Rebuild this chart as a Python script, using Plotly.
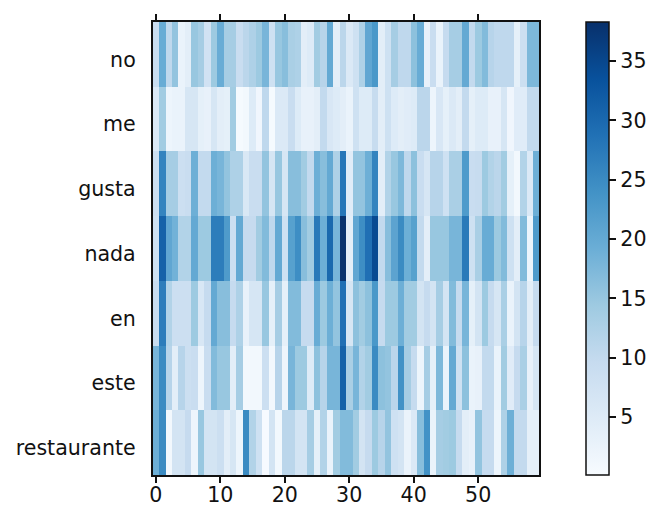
import plotly.graph_objects as go
from plotly.colors import sequential

WIDTH, HEIGHT = 666, 526

words = ["no", "me", "gusta", "nada", "en", "este", "restaurante"]
x_ticks = [0, 10, 20, 30, 40, 50]
bar_ticks = [5, 10, 15, 20, 25, 30, 35]

no = [9, 19.5, 10.5, 15.5, 2.5, 4, 15, 13.5, 7.5, 14.5, 19.5, 13.5, 13.5, 9, 11, 12.5, 14.5, 18, 8, 15,
      16.5, 13, 12.5, 4, 5, 14, 11.5, 20, 4, 11, 5.5, 8, 12.5, 20.5, 23, 4, 8, 13.5, 10.5, 10.5,
      16, 19.5, 3, 9, 2.5, 9.7, 13.5, 13.5, 20, 10, 14.5, 17, 11.5, 10.5, 10.5, 10.5, 3.5, 8.5, 17.5, 17.5]
me = [5.5, 14, 2, 2.5, 2.5, 6.5, 6.5, 3.5, 3, 6.5, 4, 3.5, 14, 0.5, 1, 5, 1.5, 10.5, 0.5, 5.5,
      5.5, 9, 5, 3, 3, 4, 10, 6, 5, 4, 2.5, 8, 5, 5, 9.5, 4, 8, 5, 4, 4.5,
      5, 11, 11, 2, 6, 3.5, 5.5, 4, 10, 3.5, 5, 5, 3, 3, 6.5, 1.5, 4.5, 4.5, 10, 10]
gusta = [8.5, 26, 13.5, 13.5, 8.5, 9, 19, 10, 10, 19, 18, 15.5, 12.5, 12.5, 5.8, 9, 9, 15.5, 6.5, 15,
         6.5, 16.5, 16.5, 14, 10, 19, 16.5, 20, 12.5, 28, 4.5, 15.5, 15.5, 19, 26, 4, 12, 15, 17.5, 10.5,
         16, 9, 6.5, 11.5, 11.5, 8, 13, 13, 22.5, 9, 9.5, 14.5, 12, 11, 14, 3.5, 1, 12, 5.5, 19]
nada = [8, 31, 20.5, 18.5, 12, 12, 20, 14.5, 14.5, 27, 27, 22.5, 8.5, 20, 9.7, 9.7, 14, 17, 10.5, 20,
        8, 21.5, 24.5, 16.5, 14, 27.5, 19, 30, 18, 38, 4, 20.5, 24.5, 29, 34.5, 10, 16.5, 21, 25, 19,
        21.5, 10, 4, 15, 15, 15, 18, 18, 27.5, 8, 13, 19.5, 19.5, 14.5, 17, 8, 4, 17, 2, 22.5]
en = [9, 27, 12, 8.5, 8.5, 8.5, 14.5, 6, 9.7, 20, 16.5, 16.5, 9.7, 12.5, 3, 6.5, 6.5, 15, 3.5, 13.5,
      3.5, 17, 17, 9.7, 9.7, 19.5, 14.5, 19, 15.5, 29, 6.5, 16, 14, 16, 23, 9.7, 14.5, 14.5, 19, 14,
      14, 7, 9.7, 7, 13.5, 7, 17, 9.7, 18, 3.5, 7, 14.5, 9.7, 6.5, 13, 2.5, 7, 11.5, 4, 9.7]
este = [18, 25, 11.5, 4, 11.5, 8.5, 9, 2, 9, 17, 15, 15, 4, 13.5, 1, 1, 1, 8.5, 1, 11.5,
        2, 18, 14.5, 14.5, 5, 16, 11.5, 18, 18, 31, 13, 18, 12, 14, 25, 16, 15.5, 11, 24, 13.5,
        9.7, 2, 13.5, 3.5, 17.5, 2.5, 20, 8, 16, 2.5, 3, 10, 10, 2.5, 14, 4.5, 9.7, 13, 3, 6.5]
restaurante = [19, 25, 1, 7, 7, 9.7, 2, 15, 7, 7, 8.5, 4, 6.5, 2, 25, 12, 8, 0.3, 7, 1,
               11, 11, 7, 7, 13.5, 3.5, 12, 2.5, 14, 17, 17, 14, 7, 9.7, 14.5, 11.5, 15.5, 8, 7, 2.5,
               5.5, 16.5, 24, 2.5, 13.5, 14, 14.5, 9.7, 4, 3, 15.5, 9.7, 9.7, 2, 12.5, 19, 10, 10, 3.5, 3.5]

weights = [no, me, gusta, nada, en, este, restaurante]
rows = list(range(len(words)))

# Word labels sit slightly below the centre of their row.
LABEL_SHIFT = 0.08

FONT = dict(family="DejaVu Sans", size=20.6, color="#111111")
LINE = 1.5

fig = go.Figure(
    go.Heatmap(
        z=weights,
        y=rows,
        x=list(range(len(no))),
        colorscale=sequential.Blues,
        zmin=0.1,
        zmax=38.3,
        colorbar=dict(
            thickness=23,
            thicknessmode="pixels",
            len=453,
            lenmode="pixels",
            x=586 / WIDTH,
            xanchor="left",
            xpad=0,
            y=1 - 248.5 / HEIGHT,
            yanchor="middle",
            ypad=0,
            outlinewidth=LINE,
            outlinecolor="#111111",
            tickvals=bar_ticks,
            ticks="outside",
            ticklen=7,
            tickwidth=LINE,
            tickcolor="#111111",
            tickfont=FONT,
        ),
    )
)

fig.update_layout(
    width=WIDTH,
    height=HEIGHT,
    margin=dict(l=0, r=0, t=0, b=0),
    paper_bgcolor="white",
    plot_bgcolor="white",
    font=FONT,
    xaxis=dict(
        domain=[150.3 / WIDTH, 538.8 / WIDTH],
        range=[-0.5, 59.5],
        tickvals=x_ticks,
        ticks="outside",
        ticklen=6,
        tickwidth=LINE,
        tickcolor="#111111",
        ticklabelstandoff=-5,
        showline=True,
        linecolor="#111111",
        linewidth=LINE,
        mirror="ticks",
        showgrid=False,
        zeroline=False,
        tickfont=FONT,
    ),
    yaxis=dict(
        domain=[1 - 475 / HEIGHT, 1 - 22 / HEIGHT],
        range=[6.5, -0.5],
        tickvals=[r + LABEL_SHIFT for r in rows],
        ticktext=words,
        ticks="",
        ticklabelstandoff=11,
        showline=True,
        linecolor="#111111",
        linewidth=LINE,
        mirror=True,
        showgrid=False,
        zeroline=False,
        tickfont=FONT,
    ),
)

fig.write_html("out.html")
